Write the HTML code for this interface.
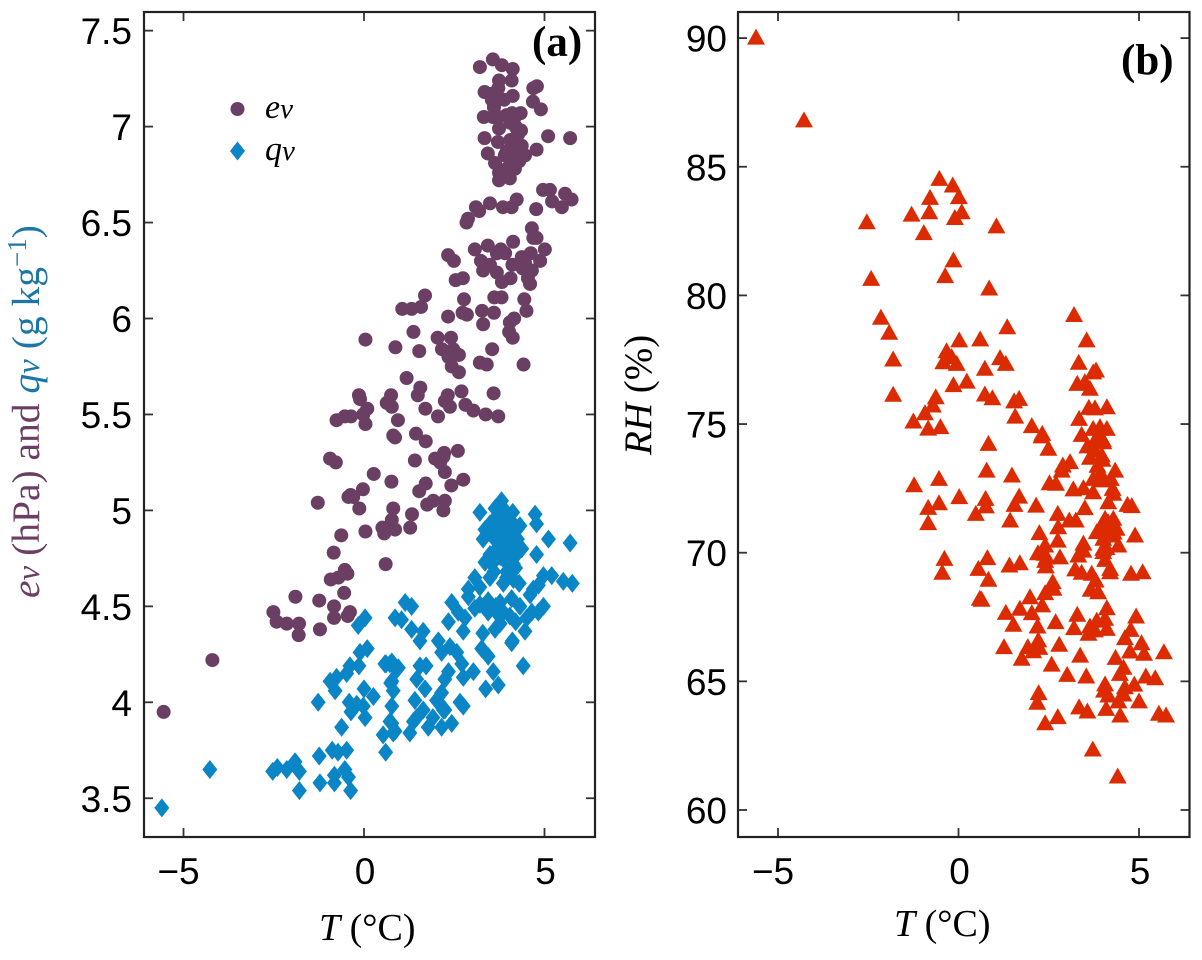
<!DOCTYPE html>
<html lang="en">
<head>
<meta charset="utf-8">
<title>T vs ev, qv and RH</title>
<style>
html,body{margin:0;padding:0;background:#fff}
svg{display:block}
.tick-label{font-family:"Liberation Sans",sans-serif;font-size:37px;fill:#000}
.title{font-family:"Liberation Serif",serif;font-size:38px}
.panel-tag{font-family:"Liberation Serif",serif;font-size:43px;font-weight:bold;fill:#000}
.it{font-style:italic}
</style>
</head>
<body>
<svg id="chart" xmlns="http://www.w3.org/2000/svg" width="1202" height="960" viewBox="0 0 1202 960">
  <rect width="1202" height="960" fill="#fff"/>
  <g id="marks-a"></g>
  <g id="marks-b"></g>
  <g id="axes"></g>
  <text class="panel-tag" x="532" y="56">(a)</text>
  <text class="panel-tag" x="1121" y="74">(b)</text>

  <circle cx="237.500" cy="109" r="7" fill="#6b3f63"/>
  <polygon points="237.500,141.500 245,151 237.500,160.500 230,151" fill="#0a85c6"/>
  <text class="title" x="265" y="118" style="font-size:34px;font-style:italic" fill="#000">e<tspan style="font-size:29px">v</tspan></text>
  <text class="title" x="265" y="160" style="font-size:34px;font-style:italic" fill="#000">q<tspan style="font-size:29px">v</tspan></text>

  <text class="title" x="319" y="940" fill="#000"><tspan class="it">T</tspan> (°C)</text>
  <text class="title" x="894" y="936" fill="#000"><tspan class="it">T</tspan> (°C)</text>

  <text class="title" transform="translate(39,598) rotate(-90)" style="font-size:39.500px"><tspan class="it" fill="#6b3f63">e<tspan style="font-size:33px">v</tspan></tspan><tspan fill="#6b3f63"> (hPa) and </tspan><tspan class="it" fill="#1c76a6">q<tspan style="font-size:33px">v</tspan></tspan><tspan fill="#1c76a6"> (g kg<tspan dy="-13" style="font-size:27px">−1</tspan><tspan dy="13">)</tspan></tspan></text>
  <text class="title" transform="translate(651,455) rotate(-90)" style="font-size:39px" fill="#000"><tspan class="it">RH</tspan> (%)</text>
</svg>
<script>
var xTicks = [-5, 0, 5];
var xTickLabels = ['−5', '0', '5'];
var yTicksA = [3.5, 4, 4.5, 5, 5.5, 6, 6.5, 7, 7.5];
var yTickLabelsA = ['3.5', '4', '4.5', '5', '5.5', '6', '6.5', '7', '7.5'];
var yTicksB = [60, 65, 70, 75, 80, 85, 90];
var yTickLabelsB = ['60', '65', '70', '75', '80', '85', '90'];

var evT = [3.21,3.57,3.82,4.12,4.09,3.74,3.72,3.34,4.12,3.88,3.54,3.60,3.68,4.69,4.79,4.68,4.90,3.32,3.57,3.95,4.10,4.34,4.18,3.74,4.23,4.27,3.34,3.71,5.10,5.71,4.78,3.43,4.23,4.37,4.18,4.46,3.95,4.23,3.63,4.18,3.74,3.74,4.04,4.96,5.15,5.57,5.75,5.21,5.48,4.77,4.23,4.09,3.85,3.49,3.10,3.19,2.88,2.84,4.65,4.69,4.78,4.13,5.01,4.62,3.43,3.07,3.79,3.68,3.91,4.37,4.88,2.33,2.49,3.24,3.49,3.30,3.68,4.11,4.46,4.40,4.65,4.54,4.60,4.06,3.82,2.54,2.74,1.69,1.06,1.32,1.58,2.77,2.33,2.73,2.85,3.27,3.60,3.61,3.81,4.44,4.50,4.16,4.04,3.30,4.02,4.12,1.37,0.04,0.87,1.53,2.04,2.41,2.16,2.47,2.63,2.34,2.43,2.63,3.55,3.21,3.40,4.42,1.18,1.56,1.49,-0.14,-0.11,0.75,0.63,0.77,0.09,-0.02,2.32,2.24,2.38,2.70,3.59,2.81,3.03,3.37,3.72,1.70,2.05,-0.76,-0.53,-0.36,0.94,0.04,0.81,0.86,1.44,1.71,-0.94,-0.78,1.41,1.97,2.22,2.60,2.20,2.11,2.24,0.27,0.76,1.71,1.53,2.75,2.42,-0.03,-0.37,-0.43,-1.28,-0.30,-0.13,0.81,1.33,1.75,1.92,2.24,2.20,0.77,1.28,0.51,0.56,0.86,0.04,-0.63,-0.84,0.60,-0.53,-0.46,-0.71,-0.92,-0.55,-1.90,-1.24,-0.83,-0.39,-0.45,-0.83,-2.51,-2.42,-2.14,-1.80,-1.81,-1.22,-4.20,-5.55,4.05,4.20,4.05,3.90,4.10,4.30,3.95,4.35,3.60,3.50,3.72];
var evValues = [7.31,7.35,7.32,7.30,7.24,7.24,7.20,7.18,7.16,7.14,7.14,7.11,7.15,7.20,7.21,7.13,7.09,7.05,7.05,7.06,7.07,7.07,7.05,6.99,6.99,6.96,6.94,6.92,6.95,6.94,6.88,6.86,6.91,6.90,6.88,6.85,6.87,6.84,6.81,6.78,6.76,6.72,6.73,6.67,6.67,6.65,6.62,6.61,6.58,6.57,6.62,6.58,6.58,6.60,6.58,6.56,6.52,6.50,6.47,6.42,6.42,6.40,6.36,6.34,6.38,6.36,6.36,6.34,6.34,6.32,6.30,6.33,6.30,6.30,6.28,6.25,6.24,6.28,6.29,6.26,6.25,6.21,6.18,6.21,6.19,6.20,6.21,6.12,6.05,6.05,6.06,6.10,6.01,6.03,6.02,6.04,6.03,6.11,6.11,6.10,6.04,6.00,5.98,5.97,5.93,5.90,5.93,5.89,5.85,5.83,5.90,5.90,5.84,5.84,5.81,5.80,5.75,5.72,5.84,5.77,5.76,5.76,5.69,5.64,5.60,5.60,5.58,5.60,5.56,5.54,5.53,5.50,5.60,5.57,5.54,5.62,5.61,5.55,5.52,5.50,5.49,5.53,5.49,5.47,5.49,5.49,5.47,5.45,5.39,5.38,5.40,5.36,5.27,5.25,5.26,5.27,5.30,5.31,5.28,5.25,5.20,5.19,5.15,5.14,5.10,5.16,5.13,5.11,5.08,5.07,5.04,5.07,5.01,5.01,4.98,5.03,5.05,5.05,5.00,4.95,4.91,4.91,4.88,4.90,4.89,4.87,4.78,4.72,4.69,4.67,4.65,4.64,4.57,4.55,4.53,4.50,4.47,4.45,4.44,4.47,4.42,4.41,4.41,4.35,4.38,4.22,3.95,7.02,7.00,6.93,6.85,6.80,6.82,6.78,6.98,7.10,7.17,7.05];

var qvT = [3.21,3.81,3.63,4.12,4.74,4.78,4.32,5.11,5.71,3.30,3.35,3.72,3.95,3.49,3.77,4.04,4.23,3.58,3.86,4.14,4.37,3.68,3.95,4.18,3.77,3.49,3.35,3.54,4.14,4.78,3.49,3.07,3.21,2.89,2.89,2.43,3.95,4.14,3.86,4.97,5.20,5.52,5.77,4.69,4.83,4.60,3.44,3.21,3.07,3.44,3.77,4.09,3.86,4.04,4.32,4.65,4.51,4.97,4.83,2.34,2.61,2.80,2.75,3.63,3.77,4.46,4.11,4.09,3.29,3.26,3.44,4.41,3.58,3.72,3.37,1.14,1.32,1.04,0.86,1.32,1.64,1.55,2.06,2.15,2.38,2.57,2.71,1.55,1.72,1.46,1.69,2.34,2.24,2.75,3.03,1.41,2.15,2.01,2.66,2.75,2.20,1.64,1.46,1.91,0.72,0.91,0.58,0.77,0.81,0.26,0.77,2.11,2.24,1.37,1.27,1.78,2.15,2.43,0.72,0.53,0.81,0.60,-5.60,-4.27,-2.53,-2.40,-2.14,-1.91,-1.79,-1.79,-1.24,-1.22,-0.88,-0.72,-0.48,-0.82,-0.82,-0.53,-0.43,-0.37,-1.27,-0.62,-0.36,-0.41,-0.20,0.03,-0.02,-0.94,-0.76,-0.80,-0.48,-0.39,-0.14,-0.11,0.09,-0.16,0.03,0.61,0.77,0.95,0.00,0.74,0.77,0.86,3.60,3.90,4.05,3.50,3.70,3.95,4.10,4.25,3.60,3.85,4.05,4.20,3.95,3.60,4.30,3.75,3.65,4.20];
var qvValues = [4.99,5.05,5.01,4.99,4.98,4.93,4.92,4.85,4.83,4.85,4.90,4.95,4.93,4.93,4.90,4.88,4.90,4.86,4.85,4.83,4.80,4.80,4.79,4.76,4.76,4.77,4.73,4.72,4.72,4.77,4.65,4.65,4.60,4.59,4.55,4.52,4.65,4.64,4.62,4.66,4.66,4.63,4.62,4.59,4.61,4.56,4.53,4.51,4.49,4.47,4.52,4.54,4.47,4.45,4.50,4.47,4.44,4.50,4.47,4.42,4.47,4.44,4.37,4.38,4.41,4.37,4.32,4.31,4.36,4.28,4.24,4.19,4.16,4.09,4.07,4.52,4.50,4.43,4.44,4.38,4.37,4.32,4.32,4.26,4.29,4.26,4.20,4.19,4.19,4.12,4.07,4.16,4.12,4.13,4.16,4.01,4.05,4.01,4.00,3.98,3.96,3.96,3.92,3.92,4.20,4.17,4.20,4.11,4.06,4.03,3.98,3.99,3.96,3.90,3.84,3.87,3.87,3.89,3.90,3.83,3.84,3.74,3.45,3.65,3.64,3.66,3.65,3.69,3.64,3.54,3.72,3.58,3.75,3.74,3.75,3.62,3.58,3.65,3.61,3.54,4.00,3.87,3.95,4.00,3.99,3.92,3.98,4.11,4.13,4.06,4.15,4.19,4.19,4.26,4.28,4.40,4.44,4.20,4.21,4.18,4.07,4.10,3.89,3.85,4.95,5.00,4.95,4.88,4.85,4.85,4.90,4.85,4.78,4.75,4.77,4.70,4.68,4.68,4.62,4.45,4.50,4.42];

var rhT = [-5.61,-4.28,-2.54,-2.42,-2.15,-1.92,-1.81,-1.81,-1.25,-0.93,-0.71,-0.63,-0.84,-0.50,-0.53,-0.16,0.01,-0.79,0.09,-0.81,-1.30,-0.10,-0.96,1.05,-0.14,-0.37,0.85,0.02,0.60,-0.33,-0.05,-0.42,-0.19,0.73,0.23,-0.14,0.73,0.94,1.35,1.15,1.31,1.54,1.68,1.57,0.83,2.03,2.32,2.30,2.49,3.20,3.55,3.33,3.81,3.73,3.29,3.50,3.64,3.61,3.78,4.11,3.34,3.41,3.73,3.92,4.11,4.01,3.57,3.78,3.78,3.64,3.97,3.99,3.09,2.89,2.86,0.78,1.48,2.52,2.70,3.18,3.46,3.73,3.92,4.34,3.73,3.97,4.22,4.27,4.29,4.15,0.75,1.68,1.55,0.76,2.15,4.68,4.80,3.50,2.75,3.07,3.25,1.43,2.76,2.24,2.40,2.75,4.06,4.29,4.38,3.83,4.01,4.20,4.89,3.46,4.43,4.01,0.80,1.41,1.70,2.38,2.44,2.42,2.81,3.32,3.46,4.06,4.20,4.20,3.23,3.41,3.69,3.80,3.66,3.87,4.78,5.10,0.83,0.64,2.61,2.63,2.40,1.98,2.32,1.70,1.31,2.03,1.52,2.19,2.69,3.29,3.20,4.11,4.06,3.83,4.11,3.64,3.78,3.60,4.92,4.77,4.61,4.75,5.07,5.14,5.69,1.26,1.92,2.21,2.24,2.07,1.75,2.79,3.37,4.35,2.58,4.57,4.47,3.01,3.54,5.19,5.45,4.87,4.61,4.06,4.03,4.15,4.57,4.43,2.22,2.18,5.00,3.34,3.57,4.09,4.48,5.55,5.75,2.75,2.40,3.72,4.41,-1.23,-0.54,0.02,-0.84,-0.54,-0.84,0.48,-0.39,-0.45,0.55,0.59,4.01,3.90,4.00,3.85,4.00,4.15,4.05,3.90,4.30,4.10,2.40,2.20];
var rhValues = [90.04,86.82,82.86,80.66,79.15,78.57,77.53,76.16,75.12,75.44,75.74,76.06,74.84,74.90,84.55,84.29,83.84,83.81,83.25,83.25,83.16,83.03,82.44,82.70,81.38,80.77,80.29,78.27,78.31,77.85,77.36,77.42,77.62,77.17,76.67,76.53,76.17,76.02,78.78,77.58,77.36,75.90,76.00,75.31,74.25,74.94,74.64,74.54,74.06,79.26,78.27,77.40,77.10,77.03,76.58,76.65,76.39,75.65,75.63,75.67,75.22,74.60,74.83,74.90,74.83,74.31,74.15,74.38,73.99,73.71,73.80,73.63,73.54,73.41,73.21,73.21,73.02,72.72,72.70,72.48,72.53,72.37,73.09,73.21,72.89,72.83,72.89,72.50,72.31,71.98,72.11,72.20,71.88,71.82,71.85,71.88,71.83,71.75,71.53,71.27,71.27,71.27,71.01,70.78,70.30,70.49,71.34,71.34,70.95,70.82,70.56,70.69,70.69,70.37,70.30,70.17,69.81,69.52,69.61,69.98,69.84,69.49,69.84,69.91,70.10,69.74,69.39,69.26,69.37,69.24,69.20,68.94,68.58,68.48,69.20,69.26,68.97,68.19,68.87,68.62,68.45,68.29,67.97,67.84,67.68,67.67,67.22,67.15,67.32,67.61,67.09,67.86,67.45,67.38,67.06,67.15,67.00,66.87,67.54,67.02,66.70,66.18,66.50,66.09,66.15,66.35,66.35,66.61,66.32,66.19,65.90,66.44,66.02,65.93,65.67,65.55,65.31,65.27,65.21,65.21,65.14,64.89,64.79,64.90,64.66,64.47,64.51,64.24,64.56,64.19,64.24,64.01,63.85,63.95,63.69,63.76,63.69,63.63,63.39,62.37,61.32,72.64,72.89,72.18,71.76,71.94,71.17,71.53,69.78,69.24,69.39,68.23,70.04,74.60,74.40,73.40,72.95,71.20,70.90,70.90,70.80,70.20,69.70,70.00];

var SVG_NS = 'http://www.w3.org/2000/svg';

function xA(t) { return 364 + 36.1 * t; }
function yA(v) { return 702.3 - (v - 4) * 191.9; }
function xB(t) { return 958.5 + 36.1 * t; }
function yB(v) { return 810 - (v - 60) * 25.73; }

function make(tag, parent) {
  var el = document.createElementNS(SVG_NS, tag);
  parent.appendChild(el);
  return el;
}

var marksA = document.getElementById('marks-a');
var marksB = document.getElementById('marks-b');
var axes = document.getElementById('axes');

evT.forEach(function (t, i) {
  var c = make('circle', marksA);
  
  
  c.setAttribute('cx', xA(t));
  c.setAttribute('cy', yA(evValues[i]));
  c.setAttribute('r', 7);
  c.setAttribute('fill', '#6b3f63');
});

qvT.forEach(function (t, i) {
  var x = xA(t), y = yA(qvValues[i]);
  var d = make('polygon', marksA);
  
  
  d.setAttribute('points', x + ',' + (y - 9.5) + ' ' + (x + 7.5) + ',' + y + ' ' + x + ',' + (y + 9.5) + ' ' + (x - 7.5) + ',' + y);
  d.setAttribute('fill', '#0a85c6');
});

rhT.forEach(function (t, i) {
  var x = xB(t), y = yB(rhValues[i]);
  var p = make('polygon', marksB);
  
  
  p.setAttribute('points', x + ',' + (y - 8.5) + ' ' + (x + 9) + ',' + (y + 7.5) + ' ' + (x - 9) + ',' + (y + 7.5));
  p.setAttribute('fill', '#dc2b00');
});

function tickLine(x1, y1, x2, y2, name) {
  var l = make('line', axes);
  
  
  l.setAttribute('x1', x1);
  l.setAttribute('y1', y1);
  l.setAttribute('x2', x2);
  l.setAttribute('y2', y2);
  l.setAttribute('stroke', '#333');
  l.setAttribute('stroke-width', 1.8);
}

function label(str, x, y, anchor, name) {
  var t = make('text', axes);
  
  
  t.setAttribute('class', 'tick-label');
  t.setAttribute('x', x);
  t.setAttribute('y', y);
  t.setAttribute('text-anchor', anchor);
  t.textContent = str;
}

function drawPanel(left, right, top, bottom, xFn, yFn, yTicks, yLabels, yLabelRight, xLabelY, id) {
  xTicks.forEach(function (t, i) {
    var x = xFn(t);
    tickLine(x, bottom, x, bottom - 9, id + '-x-tick');
    tickLine(x, top, x, top + 9, id + '-x-tick-top');
    label(xTickLabels[i], t < 0 ? x - 5 : x + 1, xLabelY, 'middle', id + '-x-tick-label');
  });
  yTicks.forEach(function (v, i) {
    var y = yFn(v);
    tickLine(left, y, left + 9, y, id + '-y-tick');
    tickLine(right, y, right - 9, y, id + '-y-tick-right');
    label(yLabels[i], yLabelRight, y + 13.5, 'end', id + '-y-tick-label');
  });
  var f = make('rect', axes);
  
  
  f.setAttribute('x', left);
  f.setAttribute('y', top);
  f.setAttribute('width', right - left);
  f.setAttribute('height', bottom - top);
  f.setAttribute('fill', 'none');
  f.setAttribute('stroke', '#222');
  f.setAttribute('stroke-width', 2.2);
}

drawPanel(144, 595, 12, 837, xA, yA, yTicksA, yTickLabelsA, 132, 884, 'panel-a');
drawPanel(738, 1189.5, 12, 837, xB, yB, yTicksB, yTickLabelsB, 727, 884, 'panel-b');
</script>
</body>
</html>
